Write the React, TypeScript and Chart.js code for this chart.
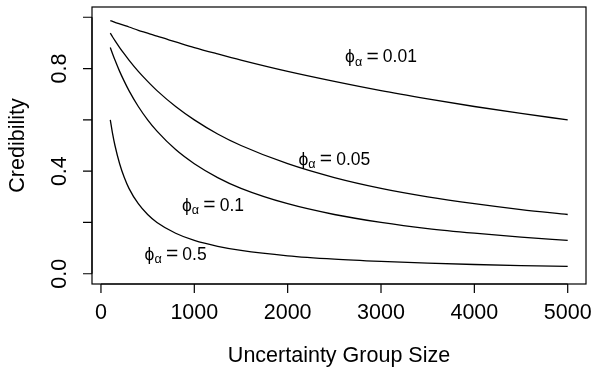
import React, { useEffect, useRef } from "react";
import { Chart, registerables } from "chart.js";
Chart.register(...registerables);

const groupSizes = [100, 125, 150, 200, 250, 300, 400, 500, 600, 800, 1000, 1250, 1500, 2000, 2500, 3000, 3500, 4000, 4500, 5000];
const credPhi001 = [0.987, 0.984, 0.980, 0.974, 0.968, 0.962, 0.949, 0.938, 0.926, 0.904, 0.882, 0.857, 0.833, 0.789, 0.750, 0.714, 0.682, 0.652, 0.625, 0.600];
const credPhi005 = [0.938, 0.923, 0.909, 0.882, 0.857, 0.833, 0.789, 0.750, 0.714, 0.652, 0.600, 0.545, 0.500, 0.429, 0.375, 0.333, 0.300, 0.273, 0.250, 0.231];
const credPhi01 = [0.882, 0.857, 0.833, 0.789, 0.750, 0.714, 0.652, 0.600, 0.556, 0.484, 0.429, 0.375, 0.333, 0.273, 0.231, 0.200, 0.176, 0.158, 0.143, 0.130];
const credPhi05 = [0.600, 0.545, 0.500, 0.429, 0.375, 0.333, 0.273, 0.231, 0.200, 0.158, 0.130, 0.107, 0.091, 0.070, 0.057, 0.048, 0.041, 0.036, 0.032, 0.029];

const phiLabels = ["0.01", "0.05", "0.1", "0.5"];
const labelX = [3000, 2500, 1200, 800];
const labelY = [0.85, 0.45, 0.27, 0.08];

const xTicks = [0, 1000, 2000, 3000, 4000, 5000];
const xTickLabels = ["0", "1000", "2000", "3000", "4000", "5000"];
const yTicks = [0, 0.2, 0.4, 0.6, 0.8, 1.0];
const yTickLabels = ["0.0", "", "0.4", "", "0.8", ""];
const xTitle = "Uncertainty Group Size";
const yTitle = "Credibility";

const FONT = '"Liberation Sans", Arial, sans-serif';
const PHI = "\u03D5";
const ALPHA = "\u03B1";

const rAxesPlugin = {
  id: "rAxes",
  afterDraw(chart: any) {
    const ctx = chart.ctx as CanvasRenderingContext2D;
    const { left, right, top, bottom } = chart.chartArea;
    const xs = chart.scales.x;
    const ys = chart.scales.y;
    ctx.save();
    ctx.strokeStyle = "#000";
    ctx.fillStyle = "#000";
    ctx.lineWidth = 1.2;
    ctx.strokeRect(left, top, right - left, bottom - top);
    const x0 = xs.getPixelForValue(xTicks[0]);
    const x1 = xs.getPixelForValue(xTicks[xTicks.length - 1]);
    ctx.beginPath();
    ctx.moveTo(x0, bottom);
    ctx.lineTo(x1, bottom);
    xTicks.forEach((v) => {
      const px = xs.getPixelForValue(v);
      ctx.moveTo(px, bottom);
      ctx.lineTo(px, bottom + 9);
    });
    const y0 = ys.getPixelForValue(yTicks[0]);
    const y1 = ys.getPixelForValue(yTicks[yTicks.length - 1]);
    ctx.moveTo(left, y0);
    ctx.lineTo(left, y1);
    yTicks.forEach((v) => {
      const py = ys.getPixelForValue(v);
      ctx.moveTo(left, py);
      ctx.lineTo(left - 9, py);
    });
    ctx.stroke();

    ctx.font = `21.5px ${FONT}`;
    ctx.textAlign = "center";
    ctx.textBaseline = "middle";
    xTicks.forEach((v, i) => {
      ctx.fillText(xTickLabels[i], xs.getPixelForValue(v), bottom + 29);
    });
    yTicks.forEach((v, i) => {
      if (!yTickLabels[i]) return;
      ctx.save();
      ctx.translate(left - 32, ys.getPixelForValue(v));
      ctx.rotate(-Math.PI / 2);
      ctx.fillText(yTickLabels[i], 0, 0);
      ctx.restore();
    });
    ctx.fillText(xTitle, (left + right) / 2, bottom + 72);
    ctx.save();
    ctx.translate(left - 74, (top + bottom) / 2);
    ctx.rotate(-Math.PI / 2);
    ctx.fillText(yTitle, 0, 0);
    ctx.restore();

    const F = 17.5;
    phiLabels.forEach((lab, i) => {
      const cx = xs.getPixelForValue(labelX[i]);
      const cy = ys.getPixelForValue(labelY[i]);
      ctx.font = `${F}px ${FONT}`;
      const wPhi = ctx.measureText(PHI).width;
      const wNum = ctx.measureText(lab).width;
      ctx.font = `${F * 1.2}px ${FONT}`;
      const wEq = ctx.measureText("=").width;
      ctx.font = `${F * 0.72}px ${FONT}`;
      const wAl = ctx.measureText(ALPHA).width;
      const gap = F * 0.24;
      const total = wPhi + wAl + gap + wEq + gap + wNum;
      let x = cx - total / 2;
      ctx.textAlign = "left";
      ctx.textBaseline = "alphabetic";
      const base = cy + F * 0.36;
      ctx.font = `${F}px ${FONT}`;
      ctx.fillText(PHI, x, base);
      x += wPhi;
      ctx.font = `${F * 0.72}px ${FONT}`;
      ctx.fillText(ALPHA, x, base + F * 0.2);
      x += wAl + gap;
      ctx.font = `${F * 1.2}px ${FONT}`;
      ctx.fillText("=", x, base + F * 0.04);
      x += wEq + gap;
      ctx.font = `${F}px ${FONT}`;
      ctx.fillText(lab, x, base);
    });
    ctx.restore();
  },
};

export default function App() {
  const ref = useRef<HTMLCanvasElement | null>(null);
  useEffect(() => {
    if (!ref.current) return;
    const mk = (vals: number[]) => ({
      data: groupSizes.map((n, i) => ({ x: n, y: vals[i] })),
      borderColor: "#000",
      borderWidth: 1.3,
      pointRadius: 0,
      fill: false,
      cubicInterpolationMode: "monotone" as const,
    });
    const chart = new Chart(ref.current, {
      type: "line",
      data: {
        datasets: [mk(credPhi001), mk(credPhi005), mk(credPhi01), mk(credPhi05)],
      },
      options: {
        animation: false,
        responsive: false,
        devicePixelRatio: 1,
        layout: { padding: { left: 92, top: 7, right: 9, bottom: 83 } },
        plugins: { legend: { display: false }, tooltip: { enabled: false } },
        scales: {
          x: { type: "linear", min: -96, max: 5196, display: false },
          y: { type: "linear", min: -0.04, max: 1.04, display: false },
        },
      },
      plugins: [rAxesPlugin],
    });
    return () => chart.destroy();
  }, []);
  return (
    <div style={{ position: "absolute", left: 0, top: 0, width: 595, height: 367, background: "#fff" }}>
      <canvas ref={ref} width={595} height={367} />
    </div>
  );
}
